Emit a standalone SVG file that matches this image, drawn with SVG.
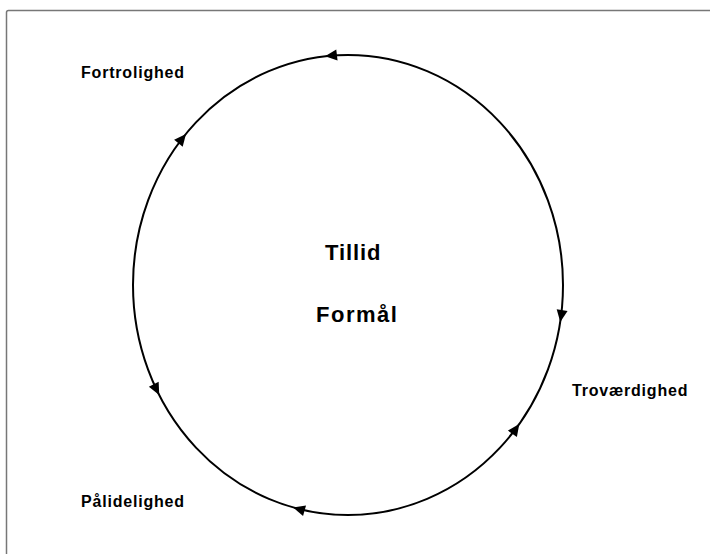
<svg xmlns="http://www.w3.org/2000/svg" xmlns:xlink="http://www.w3.org/1999/xlink" width="710" height="554" viewBox="0 0 710 554">
  <style>
    .lbl { font-family: "Liberation Sans", Arial, sans-serif; font-weight: bold; font-size: 16px; letter-spacing: 0.8px; fill: #000; }
    .big { font-family: "Liberation Sans", Arial, sans-serif; font-weight: bold; font-size: 22px; fill: #000; }
    .ring { fill: none; stroke: #000; stroke-width: 2; }
  </style>
  <defs>
    <path id="ah" d="M0,0 L-12,-5.5 L-12,5.5 Z" fill="#000"/>
  </defs>
  <rect x="0" y="0" width="710" height="554" fill="#fff"/>
  <rect x="6.5" y="10.5" width="730" height="570" rx="2" fill="none" stroke="#777" stroke-width="1.5"/>

  <g id="connectors">
    <ellipse class="ring" cx="348" cy="285" rx="215" ry="230"/>
    <use xlink:href="#ah" href="#ah" transform="translate(325,56.3) rotate(173.4)"/>
    <use xlink:href="#ah" href="#ah" transform="translate(186,134) rotate(-50.8)"/>
    <use xlink:href="#ah" href="#ah" transform="translate(560.3,322) rotate(98.7)"/>
    <use xlink:href="#ah" href="#ah" transform="translate(519.3,424) rotate(-54.7)"/>
    <use xlink:href="#ah" href="#ah" transform="translate(293,507.4) rotate(195.8)"/>
    <use xlink:href="#ah" href="#ah" transform="translate(159.2,395) rotate(63)"/>
  </g>

  <g id="center">
    <text class="big" x="325" y="260" style="letter-spacing:0.9px">Tillid</text>
    <text class="big" x="316" y="322" style="letter-spacing:1.5px">Formål</text>
  </g>
  <g id="fortrolighed">
    <text class="lbl" x="81" y="78">Fortrolighed</text>
  </g>
  <g id="trovaerdighed">
    <text class="lbl" x="572" y="396">Troværdighed</text>
  </g>
  <g id="palidelighed">
    <text class="lbl" x="81" y="507">Pålidelighed</text>
  </g>
</svg>
